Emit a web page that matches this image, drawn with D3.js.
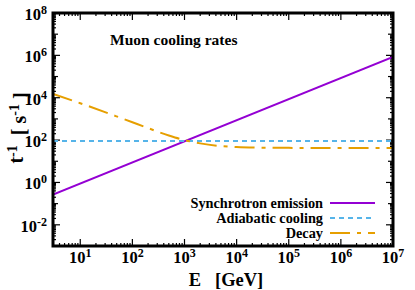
<!DOCTYPE html>
<html>
<head>
<meta charset="utf-8">
<script src="https://cdn.jsdelivr.net/npm/d3@7"></script>
<style>
  body { margin: 0; background: #fff; }
  text { font-family: "Liberation Serif", "DejaVu Serif", serif; font-weight: bold; }
</style>
</head>
<body>
<svg id="chart" width="415" height="290"></svg>
<script>
// data (E in GeV, rate in 1/s)
var synchE = [3, 1e7];
var synchRate = [0.27, 8.5e5];

var adiabE = [3, 1e7];
var adiabRate = [90, 90];

var decayE = [3, 10, 100, 500, 1000, 2000, 5000, 1e4, 3e4, 1e5, 1e6, 1e7];
var decayRate = [1.5e4, 5.5e3, 7e2, 1.65e2, 100, 70, 52, 47, 44, 43, 42, 42];

var xTicks = [1e1, 1e2, 1e3, 1e4, 1e5, 1e6, 1e7];
var yTicks = [1e-2, 1e0, 1e2, 1e4, 1e6, 1e8];

var legendNames = ["Synchrotron emission", "Adiabatic cooling", "Decay"];

var margin = {top: 13, right: 22, bottom: 44, left: 53},
    width = 415 - margin.left - margin.right,
    height = 290 - margin.top - margin.bottom;

var svg = d3.select("#chart");
var g = svg.append("g").attr("transform", "translate(" + margin.left + "," + margin.top + ")");

var x = d3.scaleLog().domain([3, 1e7]).range([0, width]);
var y = d3.scaleLog().domain([1e-3, 1e8]).range([height, 0]);

// minor ticks
var xMinor = [], yMinor = [];
for (var p = 0; p < 7; p++) for (var m = 1; m < 10; m++) { var v = m * Math.pow(10, p); if (v >= 3 && v <= 1e7) xMinor.push(v); }
for (var p = -3; p < 8; p++) for (var m = 1; m < 10; m++) { var v = m * Math.pow(10, p); if (v >= 1e-3 && v <= 1e8) yMinor.push(v); }

function tickLen(v, majors, mid) {
  var l = Math.log10(v);
  if (majors.some(function(t) { return Math.abs(Math.log10(t) - l) < 1e-6; })) return 7;
  if (mid && Math.abs(l - Math.round(l)) < 1e-6) return 5;
  return 3;
}

var ticks = g.append("g").attr("stroke", "#000").attr("stroke-width", 1.2);
xMinor.forEach(function(v) {
  var L = tickLen(v, xTicks, false);
  ticks.append("line").attr("x1", x(v)).attr("x2", x(v)).attr("y1", height).attr("y2", height - L);
  ticks.append("line").attr("x1", x(v)).attr("x2", x(v)).attr("y1", 0).attr("y2", L);
});
yMinor.forEach(function(v) {
  var L = tickLen(v, yTicks, true);
  ticks.append("line").attr("y1", y(v)).attr("y2", y(v)).attr("x1", 0).attr("x2", L);
  ticks.append("line").attr("y1", y(v)).attr("y2", y(v)).attr("x1", width).attr("x2", width - L);
});

// tick labels
function expLabel(sel, v) {
  var e = Math.round(Math.log10(v));
  sel.append("tspan").text("10");
  sel.append("tspan").attr("dy", "-0.5em").attr("font-size", "12px").text(e);
}
xTicks.forEach(function(v) {
  var t = g.append("text").attr("x", x(v)).attr("y", height + 17)
    .attr("text-anchor", "middle").attr("font-size", "16.5px");
  expLabel(t, v);
});
yTicks.forEach(function(v) {
  var t = g.append("text").attr("x", -6).attr("y", y(v) + 7)
    .attr("text-anchor", "end").attr("font-size", "16.5px");
  expLabel(t, v);
});

// series
var line = d3.line().x(function(d) { return x(d[0]); }).y(function(d) { return y(d[1]); });
var clip = g.append("clipPath").attr("id", "clip").append("rect").attr("width", width).attr("height", height);
var plot = g.append("g").attr("clip-path", "url(#clip)");

var series = [
  {e: synchE, r: synchRate, color: "#9400d3", dash: null, curve: d3.curveLinear},
  {e: adiabE, r: adiabRate, color: "#56b4e9", dash: "5,4", curve: d3.curveLinear},
  {e: decayE, r: decayRate, color: "#e69f00", dash: "20,7,4,7", curve: d3.curveMonotoneX}
];
series.forEach(function(s) {
  plot.append("path")
    .datum(d3.zip(s.e, s.r))
    .attr("fill", "none")
    .attr("stroke", s.color)
    .attr("stroke-width", 2)
    .attr("stroke-dasharray", s.dash)
    .attr("d", line.curve(s.curve));
});

// frame
g.append("rect").attr("width", width).attr("height", height)
  .attr("fill", "none").attr("stroke", "#000").attr("stroke-width", 3);

// title
g.append("text").attr("x", 57).attr("y", 32).attr("font-size", "15.5px").text("Muon cooling rates");

// legend
var leg = g.append("g");
legendNames.forEach(function(n, i) {
  var yy = 190 + i * 15;
  leg.append("text").attr("x", 270).attr("y", yy + 5).attr("text-anchor", "end")
    .attr("font-size", "14.3px").text(n);
  leg.append("line").attr("x1", 277).attr("x2", 322).attr("y1", yy).attr("y2", yy)
    .attr("stroke", series[i].color).attr("stroke-width", 2)
    .attr("stroke-dasharray", series[i].dash);
});

// axis titles
svg.append("text").attr("x", 226).attr("y", 285.5).attr("text-anchor", "middle")
  .attr("font-size", "18.5px").attr("xml:space", "preserve").text("E   [GeV]");

var yl = svg.append("text").attr("transform", "translate(23,128) rotate(-90)")
  .attr("text-anchor", "middle").attr("font-size", "20px").attr("xml:space", "preserve");
yl.append("tspan").text("t");
yl.append("tspan").attr("dy", "-0.45em").attr("font-size", "14px").text("-1");
yl.append("tspan").attr("dy", "0.45em").text("  [ s");
yl.append("tspan").attr("dy", "-0.45em").attr("font-size", "14px").text("-1");
yl.append("tspan").attr("dy", "0.45em").text(" ]");
</script>
</body>
</html>
